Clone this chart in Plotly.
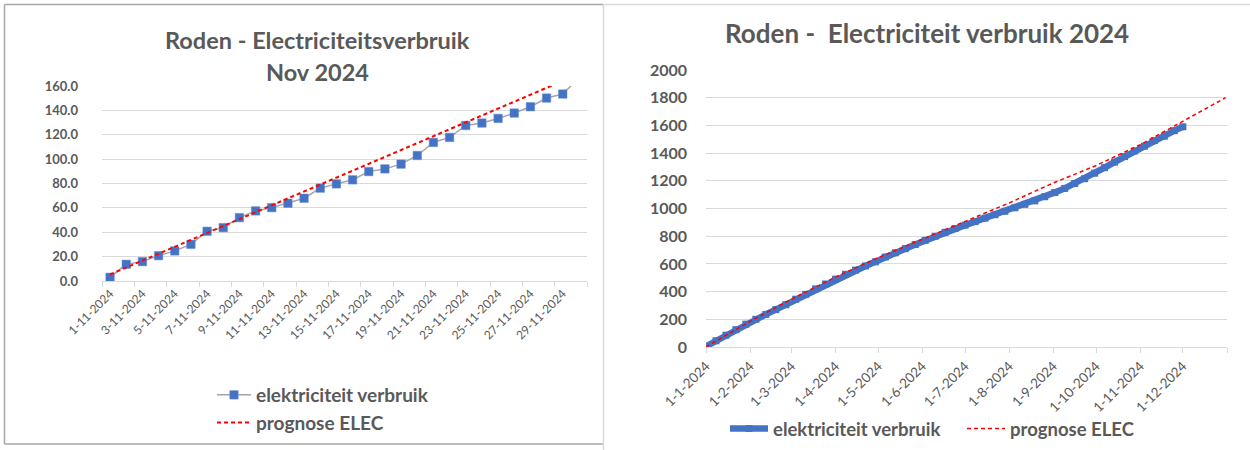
import plotly.graph_objects as go

# ---------------- data: left chart (November 2024, daily) ----------------
nov_days = list(range(1, 31))
nov_labels = ["1-11-2024", "3-11-2024", "5-11-2024", "7-11-2024", "9-11-2024",
              "11-11-2024", "13-11-2024", "15-11-2024", "17-11-2024", "19-11-2024",
              "21-11-2024", "23-11-2024", "25-11-2024", "27-11-2024", "29-11-2024"]
nov_label_days = [1, 3, 5, 7, 9, 11, 13, 15, 17, 19, 21, 23, 25, 27, 29]
nov_verbruik = [3.0, 13.7, 15.9, 20.8, 24.7, 30.1, 40.8, 43.8, 52.0, 57.5,
                60.2, 63.8, 67.9, 76.2, 79.7, 83.0, 89.8, 92.0, 95.9, 103.0,
                113.7, 117.8, 127.6, 129.6, 133.4, 137.8, 143.0, 150.1, 153.4, 166.6]
nov_prognose = [5.4, 11.1, 16.7, 22.4, 28.1, 33.8, 39.4, 45.1, 50.8, 56.4,
                62.1, 67.8, 73.5, 79.1, 84.8, 90.5, 96.1, 101.8, 107.5, 113.1,
                118.8, 124.5, 130.2, 135.8, 141.5, 147.2, 152.8, 158.5, 164.2, 169.9]

# ---------------- data: right chart (year 2024) ----------------
year_dates = ["2024-01-01", "2024-01-08", "2024-01-15", "2024-01-22", "2024-01-29",
              "2024-02-05", "2024-02-12", "2024-02-19", "2024-02-26",
              "2024-03-04", "2024-03-11", "2024-03-18", "2024-03-25",
              "2024-04-01", "2024-04-08", "2024-04-15", "2024-04-22", "2024-04-29",
              "2024-05-06", "2024-05-13", "2024-05-20", "2024-05-27",
              "2024-06-03", "2024-06-10", "2024-06-17", "2024-06-24",
              "2024-07-01", "2024-07-08", "2024-07-15", "2024-07-22", "2024-07-29",
              "2024-08-05", "2024-08-12", "2024-08-19", "2024-08-26",
              "2024-09-02", "2024-09-09", "2024-09-16", "2024-09-23", "2024-09-30",
              "2024-10-07", "2024-10-14", "2024-10-21", "2024-10-28",
              "2024-11-04", "2024-11-11", "2024-11-18", "2024-11-25", "2024-12-01"]
year_verbruik = [5, 45, 85, 125, 165,
                 200, 235, 270, 305,
                 345, 380, 420, 455,
                 490, 525, 555, 585, 615,
                 650, 680, 710, 740,
                 770, 800, 828, 855,
                 880, 905, 930, 955, 980,
                 1005, 1030, 1055, 1085,
                 1115, 1145, 1180, 1215, 1255,
                 1295, 1335, 1375, 1415,
                 1450, 1490, 1522, 1562, 1590]
prog_dates = ["2024-01-01", "2024-02-01", "2024-03-01", "2024-04-01", "2024-05-01",
              "2024-06-01", "2024-07-01", "2024-08-01", "2024-09-01", "2024-10-01",
              "2024-11-01", "2024-12-01", "2024-12-31"]
prog_values = [0, 185, 345, 505, 645, 780, 910, 1040, 1185, 1310, 1460, 1630, 1800]

month_ticks = ["2024-01-01", "2024-02-01", "2024-03-01", "2024-04-01", "2024-05-01",
               "2024-06-01", "2024-07-01", "2024-08-01", "2024-09-01", "2024-10-01",
               "2024-11-01", "2024-12-01", "2025-01-01"]
month_labels = ["1-1-2024", "1-2-2024", "1-3-2024", "1-4-2024", "1-5-2024", "1-6-2024",
                "1-7-2024", "1-8-2024", "1-9-2024", "1-10-2024", "1-11-2024", "1-12-2024", ""]

# ---------------- styling ----------------
W, H = 1250, 450
FONT = "Lato"
TXT = "#595959"
GRID = "#D9D9D9"
BLUE = "#4472C4"
RED = "#FF0000"


def px(x):
    return x / W


def py(y):
    return 1 - y / H


fig = go.Figure()

# left chart traces
fig.add_trace(go.Scatter(
    x=nov_days, y=nov_verbruik, mode="lines+markers", name="elektriciteit verbruik",
    line=dict(color="#A5A5A5", width=1.5),
    marker=dict(symbol="square", size=8.5, color=BLUE, line=dict(color="#6A8FD6", width=0.5)),
    xaxis="x", yaxis="y", legend="legend"))
fig.add_trace(go.Scatter(
    x=nov_days, y=nov_prognose, mode="lines", name="prognose ELEC",
    line=dict(color=RED, width=2, dash="4px,3px"),
    xaxis="x", yaxis="y", legend="legend"))

# right chart traces
fig.add_trace(go.Scatter(
    x=year_dates, y=year_verbruik, mode="lines+markers", name="elektriciteit verbruik",
    line=dict(color=BLUE, width=6.5),
    marker=dict(symbol="square", size=7, color=BLUE),
    xaxis="x2", yaxis="y2", legend="legend2"))
fig.add_trace(go.Scatter(
    x=prog_dates, y=prog_values, mode="lines", name="prognose ELEC",
    line=dict(color=RED, width=1.5, dash="4px,3px"),
    xaxis="x2", yaxis="y2", legend="legend2"))

fig.update_layout(
    width=W, height=H, autosize=False,
    margin=dict(l=0, r=0, t=0, b=0, autoexpand=False),
    paper_bgcolor="white", plot_bgcolor="white",
    font=dict(family=FONT, color=TXT),
    xaxis=dict(
        domain=[px(102), px(587)], anchor="y", automargin=False,
        range=[0.5, 30.5], tickmode="array", tickvals=nov_label_days, ticktext=nov_labels,
        tickangle=-45, tickfont=dict(family=FONT, size=12, color=TXT),
        ticks="", showgrid=False, zeroline=False,
        showline=True, linecolor=GRID, linewidth=1,
        minor=dict(ticks="outside", tick0=0.5, dtick=2, ticklen=5, tickcolor=GRID, showgrid=False),
    ),
    yaxis=dict(
        domain=[py(281), py(86)], anchor="x", automargin=False,
        range=[0, 160], dtick=20, tickformat=".1f",
        tickfont=dict(family=FONT, size=13, color=TXT, weight="bold"),
        showgrid=True, gridcolor=GRID, gridwidth=1, zeroline=False, showline=False,
        ticks="", ticklabelstandoff=23,
    ),
    xaxis2=dict(
        domain=[px(706), px(1227)], anchor="y2", type="date", automargin=False,
        range=["2024-01-01", "2025-01-01"], tickmode="array", tickvals=month_ticks,
        ticktext=month_labels, tickangle=-45, tickfont=dict(family=FONT, size=13.5, color=TXT),
        ticks="outside", ticklen=5, tickcolor=GRID, showgrid=False, zeroline=False,
        showline=True, linecolor=GRID, linewidth=1,
    ),
    yaxis2=dict(
        domain=[py(347), py(70)], anchor="x2", automargin=False,
        range=[0, 2000], dtick=200,
        tickfont=dict(family=FONT, size=16, color=TXT, weight="bold"),
        showgrid=True, gridcolor=GRID, gridwidth=1, zeroline=False, showline=False,
        ticks="", ticklabelstandoff=18,
    ),
    legend=dict(
        x=px(212), y=py(376), xanchor="left", yanchor="top", orientation="v",
        font=dict(family=FONT, size=19, color=TXT, weight="bold"),
        itemwidth=34, bgcolor="rgba(0,0,0,0)", tracegroupgap=0,
    ),
    legend2=dict(
        x=px(725), y=py(429), xanchor="left", yanchor="middle", orientation="h",
        font=dict(family=FONT, size=18.5, color=TXT, weight="bold"),
        itemwidth=38, entrywidth=184, entrywidthmode="pixels", bgcolor="rgba(0,0,0,0)",
    ),
    showlegend=True,
)

# titles
fig.add_annotation(text="<b>Roden - Electriciteitsverbruik</b>", x=px(317), y=py(40),
                   xref="paper", yref="paper", showarrow=False, xanchor="center", yanchor="middle",
                   font=dict(family=FONT, size=23.5, color=TXT))
fig.add_annotation(text="<b>Nov 2024</b>", x=px(317), y=py(72),
                   xref="paper", yref="paper", showarrow=False, xanchor="center", yanchor="middle",
                   font=dict(family=FONT, size=23.5, color=TXT))
fig.add_annotation(text="<b>Roden -  Electriciteit verbruik 2024</b>", x=px(927), y=py(33),
                   xref="paper", yref="paper", showarrow=False, xanchor="center", yanchor="middle",
                   font=dict(family=FONT, size=26, color=TXT))

# chart-area frames (screenshot borders)
frame = [
    dict(x0=4.5, y0=4.5, x1=603, y1=4.5, color="#A6A6A6"),
    dict(x0=4.5, y0=4.5, x1=4.5, y1=444, color="#A6A6A6"),
    dict(x0=4.5, y0=444, x1=603, y1=444, color="#A6A6A6"),
    dict(x0=603.5, y0=4.5, x1=603.5, y1=450, color="#D9D9D9"),
    dict(x0=603, y0=4.5, x1=1250, y1=4.5, color="#D9D9D9"),
]
for f in frame:
    fig.add_shape(type="line", xref="paper", yref="paper",
                  x0=px(f["x0"]), x1=px(f["x1"]), y0=py(f["y0"]), y1=py(f["y1"]),
                  line=dict(color=f["color"], width=1.5))

fig.write_html(
    "out.html",
    config={"displayModeBar": False},
    post_script="document.body.style.margin='0';document.body.style.overflow='hidden';",
)
